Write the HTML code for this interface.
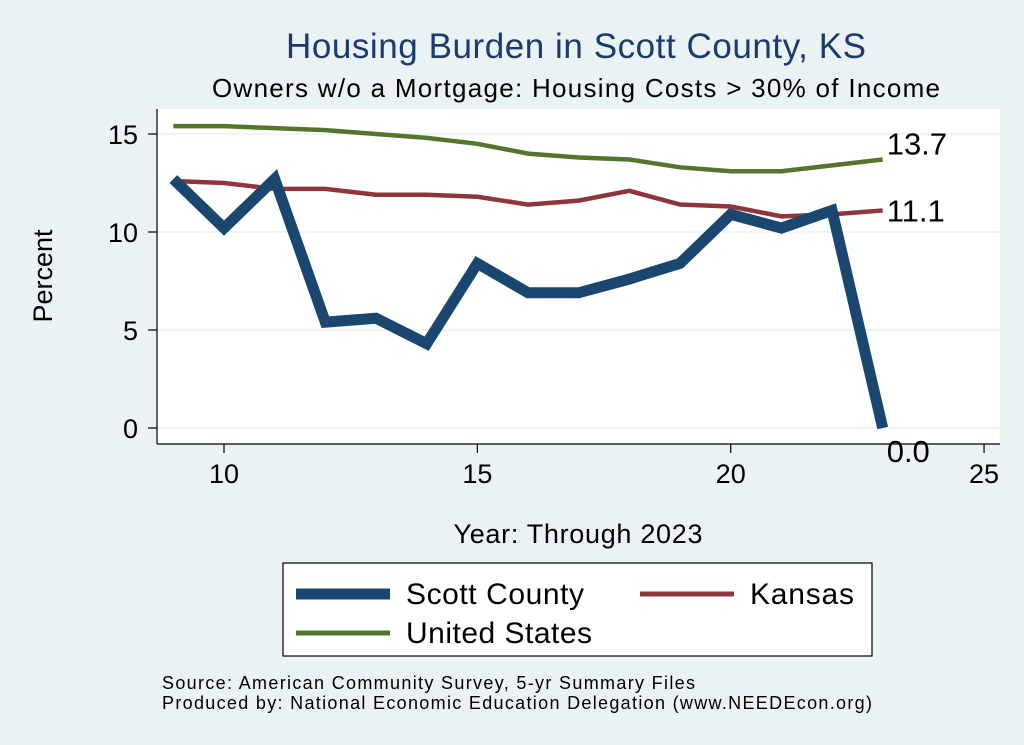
<!DOCTYPE html>
<html><head><meta charset="utf-8"><style>
body{margin:0;background:#eaf2f3;}
svg{display:block;font-family:"Liberation Sans",Arial,sans-serif;}
</style></head><body>
<svg width="1024" height="745">
<rect x="0" y="0" width="1024" height="745" fill="#eaf2f3"/>
<rect x="157" y="109" width="843" height="335" fill="#fff"/>
<text x="576" y="58" font-size="35" fill="#1a3b6e" text-anchor="middle" textLength="580">Housing Burden in Scott County, KS</text>
<text x="576" y="97" font-size="26" fill="#000" text-anchor="middle" textLength="728">Owners w/o a Mortgage: Housing Costs &gt; 30% of Income</text>
<g id="grid"></g><g id="axes"></g><g id="series"></g>
<text x="52" y="276" font-size="27" text-anchor="middle" transform="rotate(-90 52 276)">Percent</text>
<text x="578" y="543" font-size="27" text-anchor="middle" textLength="249">Year: Through 2023</text>
<g>
<rect x="283" y="563" width="589" height="93" fill="#fff" stroke="#000" stroke-width="1.2"/>
<line x1="296" y1="594" x2="390" y2="594" stroke="#1a476f" stroke-width="11"/>
<text x="406" y="604" font-size="30" textLength="178">Scott County</text>
<line x1="640" y1="594" x2="734" y2="594" stroke="#90353b" stroke-width="5"/>
<text x="750" y="604" font-size="30" textLength="104">Kansas</text>
<line x1="296" y1="633" x2="390" y2="633" stroke="#55752f" stroke-width="5"/>
<text x="406" y="643" font-size="30" textLength="186">United States</text>
</g>
<text x="162" y="689" font-size="18" textLength="533">Source: American Community Survey, 5-yr Summary Files</text>
<text x="162" y="709" font-size="18" textLength="710">Produced by: National Economic Education Delegation (www.NEEDEcon.org)</text>
</svg>
<script>
const years=[9,10,11,12,13,14,15,16,17,18,19,20,21,22,23];
const scott=[12.7,10.2,12.7,5.4,5.6,4.3,8.4,6.9,6.9,7.6,8.4,10.9,10.2,11.1,0.0];
const kansas=[12.6,12.5,12.2,12.2,11.9,11.9,11.8,11.4,11.6,12.1,11.4,11.3,10.8,10.9,11.1];
const us=[15.4,15.4,15.3,15.2,15.0,14.8,14.5,14.0,13.8,13.7,13.3,13.1,13.1,13.4,13.7];
const xTicks=[10,15,20,25];
const yTicks=[0,5,10,15];
const NS="http://www.w3.org/2000/svg";
const X=v=>224+(v-10)*50.67;
const Y=v=>428-v*19.6;
function mk(t,a,p){const e=document.createElementNS(NS,t);for(const k in a)e.setAttribute(k,a[k]);p.appendChild(e);return e;}
const grid=document.getElementById('grid'),axes=document.getElementById('axes'),ser=document.getElementById('series');
yTicks.forEach(t=>{
 const g=mk('line',{x1:157,x2:1000,y1:Y(t),y2:Y(t),stroke:'#eaf2f3','stroke-width':1.5},grid);
 
 
 const tk=mk('line',{x1:148,x2:157,y1:Y(t),y2:Y(t),stroke:'#000','stroke-width':1.2},axes);
 
 
 const lb=mk('text',{x:138,y:Y(t)+10,'font-size':27,'text-anchor':'end'},axes);lb.textContent=t;
 
 
});
xTicks.forEach(t=>{
 const tk=mk('line',{x1:X(t),x2:X(t),y1:444,y2:453,stroke:'#000','stroke-width':1.2},axes);
 
 
 const lb=mk('text',{x:X(t),y:483,'font-size':27,'text-anchor':'middle'},axes);lb.textContent=t;
 
 
});
const ya=mk('line',{x1:157,x2:157,y1:109,y2:444,stroke:'#000','stroke-width':1.2},axes);


const xa=mk('line',{x1:157,x2:1000,y1:444,y2:444,stroke:'#000','stroke-width':1.2},axes);


function line(vals,color,w,name,dy){
 const p=mk('polyline',{points:vals.map((v,i)=>X(years[i])+','+Y(v)).join(' '),fill:'none',stroke:color,'stroke-width':w,'stroke-linejoin':'miter'},ser);
 
 
 const n=vals.length-1;
 const lb=mk('text',{x:X(years[n])+4,y:Y(vals[n])+dy,'font-size':31},ser);
 lb.textContent=vals[n].toFixed(1);
 
 
}
line(us,'#55752f',4.5,'line-us',-5);
line(kansas,'#90353b',4.5,'line-kansas',11);
line(scott,'#1a476f',11,'line-scott',34);
</script>
</body></html>
